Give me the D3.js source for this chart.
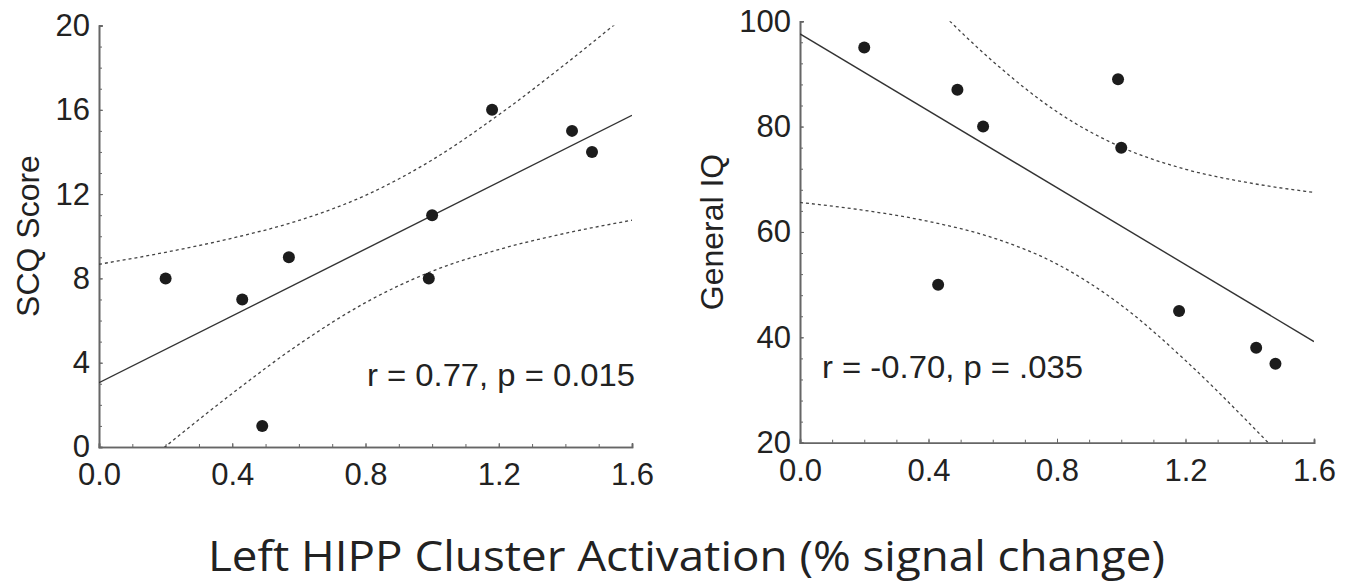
<!DOCTYPE html>
<html>
<head>
<meta charset="utf-8">
<script src="https://cdn.jsdelivr.net/npm/d3@7"></script>
<style>
  body { margin: 0; background: #fff; }
  svg { display: block; }
</style>
</head>
<body>
<script>
'use strict';

// activation values shared by both panels
const activation = [0.2, 0.43, 0.49, 0.57, 0.99, 1.0, 1.18, 1.42, 1.48]
const scqScore = [8, 7, 1, 9, 8, 11, 16, 15, 14]
const generalIQ = [95, 50, 87, 80, 89, 76, 45, 38, 35]

const fitX = [0, 1.6]
const scqFit = [3.05, 15.74]
const iqFit = [97.6, 39.2]
const bandX = [0, 0.2, 0.4, 0.6, 0.8, 1.0, 1.2, 1.4, 1.6]
const scqUpper = [8.67, 9.24, 9.91, 10.75, 11.94, 13.62, 15.76, 18.17, 20.72]
const scqLower = [-2.57, 0.03, 2.54, 4.87, 6.85, 8.34, 9.37, 10.14, 10.76]
const iqUpper = [129.6, 116.5, 104.0, 92.4, 82.8, 76.1, 71.9, 69.3, 67.5]
const iqLower = [65.6, 64.1, 62.0, 58.9, 53.9, 46.1, 35.6, 23.6, 10.8]

const xTicks = [0, 0.4, 0.8, 1.2, 1.6]
const scqTicks = [0, 4, 8, 12, 16, 20]
const iqTicks = [20, 40, 60, 80, 100]

const W = 1358, H = 583
const font = "'Liberation Sans', Arial, sans-serif"

const svg = d3.select('body')
  .append('svg')
  .attr('width', W)
  .attr('height', H)

drawPanel({
  id: 'scq',
  x: [99, 632], y: [447, 25.5],
  yDomain: [0, 20], yTicks: scqTicks, yMinor: 1, yFmt: d3.format('d'),
  values: scqScore, fit: scqFit, upper: scqUpper, lower: scqLower,
  yLabel: 'SCQ Score', yLabelPos: [39, 236],
  xLabelY: 485,
  note: 'r = 0.77, p = 0.015', notePos: [367, 386], noteLen: 268
})

drawPanel({
  id: 'iq',
  x: [800, 1314], y: [442.7, 21.2],
  yDomain: [20, 100], yTicks: iqTicks, yMinor: 4, yFmt: d3.format('d'),
  values: generalIQ, fit: iqFit, upper: iqUpper, lower: iqLower,
  yLabel: 'General IQ', yLabelPos: [723, 232],
  xLabelY: 481,
  note: 'r = -0.70, p = .035', notePos: [822, 378], noteLen: 261
})

svg.append('text')
  .attr('x', 208)
  .attr('y', 571)
  .attr('textLength', 957)
  .attr('lengthAdjust', 'spacingAndGlyphs')
  .style('font-family', "'Open Sans', 'Noto Sans', sans-serif")
  .style('font-size', '42px')
  .style('fill', '#222')
  .text('Left HIPP Cluster Activation (% signal change)')


function drawPanel(p) {
  let xScale = d3.scaleLinear().domain([0, 1.6]).range(p.x)
  let yScale = d3.scaleLinear().domain(p.yDomain).range(p.y)

  let g = svg.append('g').attr('id', p.id)

  g.append('clipPath')
    .attr('id', 'clip-' + p.id)
    .append('rect')
    .attr('x', p.x[0])
    .attr('y', p.y[1])
    .attr('width', p.x[1] - p.x[0])
    .attr('height', p.y[0] - p.y[1])

  // tiny, minor and major ticks, all pointing inward
  let xAxisG = g.append('g').attr('transform', 'translate(0,' + p.y[0] + ')')
  xAxisG.call(d3.axisBottom(xScale).tickValues(d3.range(0, 1.6001, 0.025)).tickSize(-1.5).tickFormat(''))
  xAxisG.call(d3.axisBottom(xScale).tickValues(d3.range(0, 1.6001, 0.1)).tickSize(-3).tickFormat(''))
  let xMain = g.append('g').attr('transform', 'translate(0,' + p.y[0] + ')')
    .call(d3.axisBottom(xScale).tickValues(xTicks).tickSize(-4).tickPadding(0).tickFormat(d3.format('.1f')))

  let yAxisG = g.append('g').attr('transform', 'translate(' + p.x[0] + ',0)')
  yAxisG.call(d3.axisLeft(yScale).tickValues(d3.range(p.yDomain[0], p.yDomain[1] + 0.01, p.yMinor)).tickSize(-3).tickFormat(''))
  let yMain = g.append('g').attr('transform', 'translate(' + p.x[0] + ',0)')
    .call(d3.axisLeft(yScale).tickValues(p.yTicks).tickSize(-4).tickPadding(9).tickFormat(p.yFmt))

  g.selectAll('.domain')
    .attr('stroke', '#666')
    .attr('stroke-width', 1.6)
  g.selectAll('.tick line')
    .attr('stroke', '#666')
    .attr('stroke-width', 1)

  xMain.selectAll('.tick text')
    .attr('y', p.xLabelY - p.y[0])
    .attr('dy', 0)
  g.selectAll('.tick text')
    .style('font-family', font)
    .style('font-size', '31px')
    .style('fill', '#222')

  let inner = g.append('g').attr('clip-path', 'url(#clip-' + p.id + ')')

  let band = d3.line()
    .x((d, i) => xScale(bandX[i]))
    .y((d) => yScale(d))
    .curve(d3.curveMonotoneX)

  inner.selectAll('.band')
    .data([p.upper, p.lower])
    .enter().append('path')
    .attr('class', 'band')
    .attr('d', band)
    .attr('fill', 'none')
    .attr('stroke', '#444')
    .attr('stroke-width', 1.3)
    .attr('stroke-dasharray', '3,3')

  inner.append('path')
    .attr('d', d3.line().x((d, i) => xScale(fitX[i])).y((d) => yScale(d))(p.fit))
    .attr('fill', 'none')
    .attr('stroke', '#333')
    .attr('stroke-width', 1.4)

  g.selectAll('circle')
    .data(p.values)
    .enter().append('circle')
    .attr('cx', (d, i) => xScale(activation[i]))
    .attr('cy', (d) => yScale(d))
    .attr('r', 6)
    .style('fill', '#1c1c1c')

  g.append('text')
    .attr('transform', 'translate(' + p.yLabelPos[0] + ',' + p.yLabelPos[1] + ')rotate(-90)')
    .attr('text-anchor', 'middle')
    .style('font-family', font)
    .style('font-size', '32px')
    .style('fill', '#222')
    .text(p.yLabel)

  g.append('text')
    .attr('x', p.notePos[0])
    .attr('y', p.notePos[1])
    .attr('textLength', p.noteLen)
    .attr('lengthAdjust', 'spacingAndGlyphs')
    .style('font-family', font)
    .style('font-size', '31px')
    .style('fill', '#222')
    .text(p.note)
}
</script>
</body>
</html>
